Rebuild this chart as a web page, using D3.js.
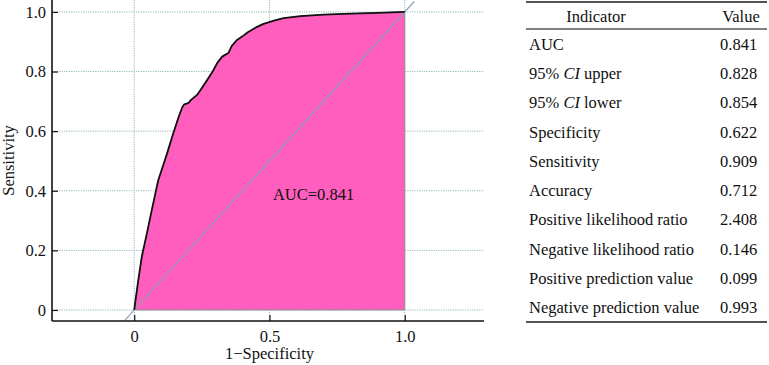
<!DOCTYPE html>
<html>
<head>
<meta charset="utf-8">
<script src="https://cdn.jsdelivr.net/npm/d3@7"></script>
<style>
  body { margin: 0; background: #fff; }
  svg text { font-family: "Liberation Serif", "Times New Roman", serif; }
</style>
</head>
<body>
<svg id="chart" width="769" height="365"></svg>
<script>
// ROC curve points (1-specificity, sensitivity)
var rocFpr = [0, 0.005, 0.01, 0.015, 0.028, 0.047, 0.065, 0.081, 0.089, 0.105, 0.122, 0.14, 0.152,
              0.165, 0.178, 0.185, 0.2, 0.21, 0.233, 0.25, 0.27, 0.29, 0.307, 0.325, 0.348, 0.36,
              0.38, 0.4, 0.42, 0.45, 0.478, 0.52, 0.552, 0.615, 0.7, 0.8, 0.9, 1]
var rocTpr = [0, 0.035, 0.067, 0.1, 0.179, 0.258, 0.336, 0.403, 0.436, 0.48, 0.527, 0.58, 0.614,
              0.65, 0.681, 0.69, 0.694, 0.705, 0.722, 0.745, 0.772, 0.8, 0.829, 0.85, 0.862, 0.885,
              0.906, 0.918, 0.932, 0.948, 0.96, 0.972, 0.979, 0.986, 0.991, 0.994, 0.997, 1]
var xTicks = [0, 0.5, 1.0]
var xTickLabels = ["0", "0.5", "1.0"]
var yTicks = [0, 0.2, 0.4, 0.6, 0.8, 1.0]
var yTickLabels = ["0", "0.2", "0.4", "0.6", "0.8", "1.0"]
var aucLabel = "AUC=0.841"

var indicators = ["AUC", "95% CI upper", "95% CI lower", "Specificity", "Sensitivity", "Accuracy",
                  "Positive likelihood ratio", "Negative likelihood ratio",
                  "Positive prediction value", "Negative prediction value"]
var values = ["0.841", "0.828", "0.854", "0.622", "0.909", "0.712", "2.408", "0.146", "0.099", "0.993"]

var svg = d3.select("#chart")
var fs = 16.5

// plot area
var pLeft = 52, pRight = 484, pTop = 0, pBottom = 321
var x = d3.scaleLinear().domain([-0.304, 1.293]).range([pLeft, pRight])
var y = d3.scaleLinear().domain([-0.037, 1.04]).range([pBottom, pTop])

var gridColor = "#93b8b8"

// grid
svg.append("g").selectAll("line").data(yTicks).join("line")
    .attr("x1", pLeft).attr("x2", pRight)
    .attr("y1", d => y(d)).attr("y2", d => y(d))
    .attr("stroke", gridColor).attr("stroke-width", 1)
    .attr("stroke-dasharray", "1.2,1.2")
svg.append("g").selectAll("line").data(xTicks).join("line")
    .attr("x1", d => x(d)).attr("x2", d => x(d))
    .attr("y1", pTop).attr("y2", pBottom)
    .attr("stroke", gridColor).attr("stroke-width", 1)
    .attr("stroke-dasharray", "1.2,1.2")

// filled area under the ROC curve
var pts = rocFpr.map((d, i) => [d, rocTpr[i]])
var area = d3.area().x(d => x(d[0])).y0(y(0)).y1(d => y(d[1]))
svg.append("path").datum(pts)
    .attr("d", area)
    .attr("fill", "#ff5ebe")
    .attr("stroke", "#8c8c8c").attr("stroke-width", 1)

// chance diagonal
svg.append("line")
    .attr("x1", x(-0.035)).attr("y1", y(-0.035))
    .attr("x2", x(1.035)).attr("y2", y(1.035))
    .attr("stroke", "#8f9db4").attr("stroke-width", 1.2)

// ROC curve
var line = d3.line().x(d => x(d[0])).y(d => y(d[1]))
svg.append("path").datum(pts)
    .attr("d", line)
    .attr("fill", "none")
    .attr("stroke", "#111").attr("stroke-width", 1.8)
    .attr("stroke-linejoin", "round")

// axes
var xAxis = d3.axisBottom(x).tickValues(xTicks).tickSize(-6).tickPadding(9)
    .tickFormat((d, i) => xTickLabels[i])
var gx = svg.append("g").attr("transform", "translate(0," + pBottom + ")").call(xAxis)
gx.select(".domain").attr("d", "M" + pLeft + ",0H" + pRight)

var yAxis = d3.axisLeft(y).tickValues(yTicks).tickSize(-6).tickPadding(6)
    .tickFormat((d, i) => yTickLabels[i])
var gy = svg.append("g").attr("transform", "translate(" + pLeft + ",0)").call(yAxis)
gy.select(".domain").attr("d", "M0," + pTop + "V" + pBottom)

svg.selectAll(".domain").attr("stroke", "#111").attr("stroke-width", 1.6)
svg.selectAll(".tick line").attr("stroke", "#111").attr("stroke-width", 1.2)
svg.selectAll(".tick text")
    .attr("font-family", "Liberation Serif, Times New Roman, serif")
    .attr("font-size", fs).attr("fill", "#111")

// axis titles
svg.append("text")
    .attr("transform", "translate(14," + ((pTop + pBottom) / 2) + ") rotate(-90)")
    .attr("text-anchor", "middle")
    .attr("font-size", fs).attr("fill", "#111")
    .text("Sensitivity")
svg.append("text")
    .attr("x", x(0.5)).attr("y", 359)
    .attr("text-anchor", "middle")
    .attr("font-size", fs).attr("fill", "#111")
    .text("1\u2212Specificity")

svg.append("text")
    .attr("x", x(0.663)).attr("y", y(0.39) + 6)
    .attr("text-anchor", "middle")
    .attr("font-size", fs).attr("fill", "#111")
    .text(aucLabel)

// table
var tLeft = 526, tRight = 767, tTop = 2, headRule = 29, tBottom = 322
var rowY = d3.scaleBand().domain(d3.range(indicators.length)).range([headRule, tBottom])
var tbl = svg.append("g")

tbl.append("line").attr("x1", tLeft).attr("x2", tRight).attr("y1", tTop).attr("y2", tTop)
    .attr("stroke", "#555").attr("stroke-width", 2)
tbl.append("line").attr("x1", tLeft).attr("x2", tRight).attr("y1", headRule).attr("y2", headRule)
    .attr("stroke", "#555").attr("stroke-width", 1.3)
tbl.append("line").attr("x1", tLeft).attr("x2", tRight).attr("y1", tBottom).attr("y2", tBottom)
    .attr("stroke", "#555").attr("stroke-width", 2)

tbl.append("text").attr("x", 596).attr("y", (tTop + headRule) / 2 + 6)
    .attr("text-anchor", "middle").attr("font-size", fs).attr("fill", "#111").text("Indicator")
tbl.append("text").attr("x", 741).attr("y", (tTop + headRule) / 2 + 6)
    .attr("text-anchor", "middle").attr("font-size", fs).attr("fill", "#111").text("Value")

var rows = tbl.selectAll("g.row").data(indicators).join("g").attr("class", "row")
    .attr("transform", (d, i) => "translate(0," + (rowY(i) + rowY.bandwidth() / 2 + 6) + ")")

rows.append("text").attr("x", 529).attr("font-size", fs).attr("fill", "#111")
    .each(function (d) {
        var t = d3.select(this)
        var m = d.match(/^(95% )CI( .*)$/)
        if (m) {
            t.append("tspan").text(m[1])
            t.append("tspan").attr("font-style", "italic").text("CI")
            t.append("tspan").text(m[2])
        } else {
            t.text(d)
        }
    })
rows.append("text").attr("x", 720).attr("font-size", fs).attr("fill", "#111")
    .text((d, i) => values[i])
</script>
</body>
</html>
